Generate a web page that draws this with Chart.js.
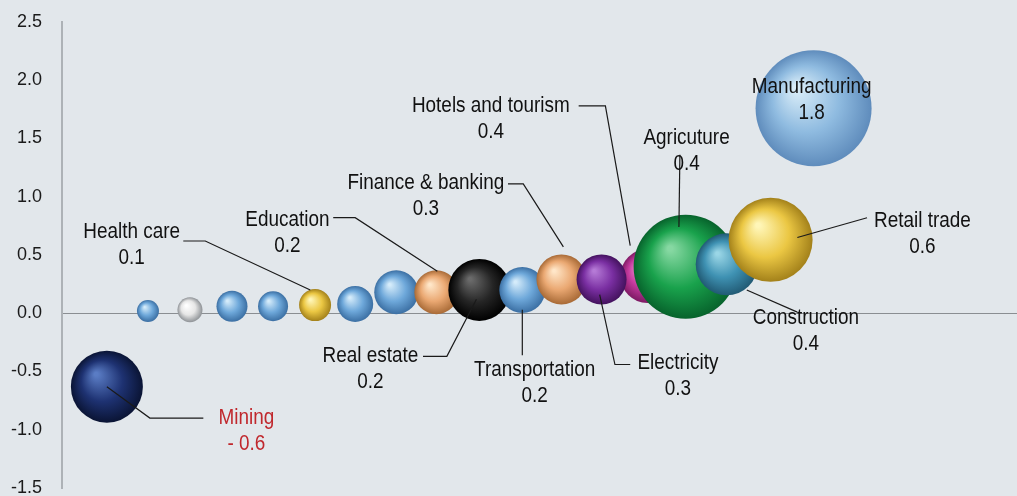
<!DOCTYPE html>
<html>
<head>
<meta charset="utf-8">
<script src="https://cdn.jsdelivr.net/npm/chart.js@4/dist/chart.umd.min.js"></script>
<style>
  html, body { margin: 0; padding: 0; background: #e2e7eb; }
  #wrap { position: relative; width: 1017px; height: 496px; }
</style>
</head>
<body>
<div id="wrap"><canvas id="chart"></canvas></div>
<script>
// ---- data (x is just an ordering position 0-100, y is the value, r is bubble radius) ----
const sectors  = ['Mining', 's1', 's2', 's3', 's4', 'Health care', 's5', 's6', 'Education', 'Real estate',
                  'Transportation', 'Finance & banking', 'Hotels and tourism', 'Electricity', 'Agricuture',
                  'Construction', 'Retail trade', 'Manufacturing'];
const xPos     = [4.7, 9.0, 13.4, 17.8, 22.1, 26.5, 30.7, 35.0, 39.2, 43.7, 48.2, 52.3, 61.3, 56.5, 65.3, 69.6, 74.2, 78.7];
const yVals    = [-0.63, 0.02, 0.03, 0.06, 0.06, 0.07, 0.08, 0.18, 0.18, 0.20, 0.20, 0.29, 0.32, 0.29, 0.40, 0.42, 0.63, 1.76];
const radii    = [36, 11, 12.5, 15.5, 15, 16, 18, 22, 22, 31, 23, 25, 27, 25, 52, 31, 42, 58];
const palette  = ['navy', 'blue', 'white', 'blue', 'blue', 'gold', 'blue', 'blue', 'peach', 'black',
                  'blue', 'peach', 'magenta', 'purple', 'green', 'teal', 'gold', 'lightblue'];
const yTicks   = [-1.5, -1.0, -0.5, 0.0, 0.5, 1.0, 1.5, 2.0, 2.5];

// label blocks: two lines of text at (x, y) in data units
const labelText  = [['Health care', '0.1'], ['Education', '0.2'], ['Finance & banking', '0.3'],
                    ['Hotels and tourism', '0.4'], ['Agricuture', '0.4'], ['Manufacturing', '1.8'],
                    ['Retail trade', '0.6'], ['Construction', '0.4'], ['Transportation', '0.2'],
                    ['Electricity', '0.3'], ['Real estate', '0.2'], ['Mining', '- 0.6']];
const labelX     = [7.3, 23.6, 38.1, 44.9, 65.4, 78.5, 90.1, 77.9, 49.5, 64.5, 32.3, 19.3];
const labelY     = [0.59, 0.69, 1.01, 1.67, 1.39, 1.83, 0.68, -0.15, -0.60, -0.54, -0.48, -1.01];
const labelColor = ['#111', '#111', '#111', '#111', '#111', '#111',
                    '#111', '#111', '#111', '#111', '#111', '#c0282d'];

// leader lines, as [x, y] points in data units
const leaders = [
  [[12.7, 0.62], [15.0, 0.62], [26.0, 0.20]],
  [[28.4, 0.82], [30.7, 0.82], [39.3, 0.36]],
  [[46.7, 1.11], [48.3, 1.11], [52.5, 0.57]],
  [[54.1, 1.78], [56.9, 1.78], [59.5, 0.58]],
  [[64.7, 1.36], [64.6, 0.74]],
  [[37.8, -0.37], [40.3, -0.37], [43.4, 0.12]],
  [[48.2, 0.03], [48.2, -0.36]],
  [[56.3, 0.16], [57.9, -0.44], [59.5, -0.44]],
  [[71.7, 0.20], [77.0, 0.01]],
  [[77.0, 0.65], [84.3, 0.82]],
  [[4.7, -0.63], [9.2, -0.90], [14.8, -0.90]],
];

// sphere shading: highlight, base, shadow
const SHADES = {
  navy:      ['#5a7cc4', '#1e3272', '#0a1434'],
  blue:      ['#d4ebfa', '#6ea8da', '#3b6fa3'],
  lightblue: ['#d8ecf8', '#8fbbe0', '#5f8cbc'],
  white:     ['#ffffff', '#e6e6e6', '#8e9296'],
  gold:      ['#fff6b8', '#ebc743', '#a3811a'],
  peach:     ['#ffe6c8', '#eaa872', '#a86a36'],
  black:     ['#6a6a6a', '#252525', '#000000'],
  purple:    ['#b57ad6', '#7a2fa2', '#44125e'],
  magenta:   ['#ef8fd0', '#c43a9e', '#7e1a64'],
  green:     ['#86d8a2', '#19a24c', '#07632c'],
  teal:      ['#9ad6e6', '#3f92b3', '#215a74'],
};

const FONT = "'Liberation Sans', Arial, sans-serif";

Chart.defaults.font.family = FONT;
Chart.defaults.color = '#1a1a1a';

const points = xPos.map((x, i) => ({ x, y: yVals[i], r: radii[i] }));

function sphereFill(ctx) {
  if (ctx.type !== 'data') return '#888';
  const chart = ctx.chart;
  const shade = SHADES[palette[ctx.dataIndex]];
  const xs = chart.scales.x, ys = chart.scales.y;
  if (!xs || !ys || !chart.chartArea) return shade[1];
  const cx = xs.getPixelForValue(ctx.raw.x);
  const cy = ys.getPixelForValue(ctx.raw.y);
  const r = ctx.raw.r;
  const g = chart.ctx.createRadialGradient(cx - r * 0.3, cy - r * 0.35, r * 0.05, cx, cy, r);
  g.addColorStop(0, shade[0]);
  g.addColorStop(0.55, shade[1]);
  g.addColorStop(1, shade[2]);
  return g;
}

// draws leader lines and two-line labels on top of the bubbles
const labelPlugin = {
  id: 'sectorLabels',
  afterDatasetsDraw(chart) {
    const { ctx: c, scales: { x, y } } = chart;
    c.save();
    c.strokeStyle = '#1a1a1a';
    c.lineWidth = 1.2;
    for (const pts of leaders) {
      c.beginPath();
      pts.forEach(([px, py], i) => {
        const X = x.getPixelForValue(px), Y = y.getPixelForValue(py);
        if (i === 0) c.moveTo(X, Y); else c.lineTo(X, Y);
      });
      c.stroke();
    }
    // the original type is condensed, so squeeze the text horizontally
    c.font = '22px ' + FONT;
    c.textAlign = 'center';
    c.textBaseline = 'middle';
    labelText.forEach((lines, i) => {
      const X = x.getPixelForValue(labelX[i]);
      const Y = y.getPixelForValue(labelY[i]);
      c.save();
      c.translate(X, Y);
      c.scale(0.86, 1);
      c.fillStyle = labelColor[i];
      c.fillText(lines[0], 0, -13);
      c.fillText(lines[1], 0, 13);
      c.restore();
    });
    c.restore();
  }
};

new Chart(document.getElementById('chart'), {
  type: 'bubble',
  data: {
    labels: sectors,
    datasets: [{
      data: points,
      backgroundColor: sphereFill,
      borderWidth: 0,
      hoverRadius: 0,
      hoverBorderWidth: 0,
    }],
  },
  options: {
    responsive: true,
    maintainAspectRatio: false,
    animation: false,
    events: [],
    layout: { autoPadding: false, padding: { top: 22, bottom: 8, left: 0, right: 0 } },
    scales: {
      x: { type: 'linear', min: 0, max: 100, display: false },
      y: {
        type: 'linear',
        min: -1.5,
        max: 2.5,
        afterBuildTicks: (scale) => { scale.ticks = yTicks.map(v => ({ value: v })); },
        afterFit: (scale) => { scale.width = 62; scale.paddingTop = 0; scale.paddingBottom = 0; },
        ticks: {
          padding: 20,
          color: '#1a1a1a',
          font: { size: 18 },
          callback: v => v.toFixed(1),
        },
        grid: {
          drawTicks: false,
          color: c => (c.tick && c.tick.value === 0 ? '#8a8e92' : 'rgba(0,0,0,0)'),
          lineWidth: 1,
        },
        border: { display: true, color: '#adb2b6', width: 2 },
      },
    },
    plugins: {
      legend: { display: false },
      tooltip: { enabled: false },
    },
  },
  plugins: [labelPlugin],
});
</script>
</body>
</html>
